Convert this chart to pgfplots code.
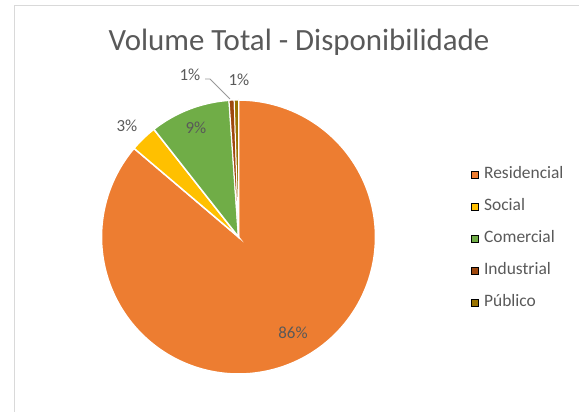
\documentclass[border=0pt]{standalone}
\usepackage{pgfplots}
\pgfplotsset{compat=1.18}
\usepackage{pgfplotstable}
\usepackage{fontspec}
\setmainfont{Carlito}
\definecolor{cRes}{HTML}{ED7D31}
\definecolor{cSoc}{HTML}{FFC000}
\definecolor{cCom}{HTML}{70AD47}
\definecolor{cInd}{HTML}{9E480E}
\definecolor{cPub}{HTML}{997300}
\definecolor{txt}{HTML}{595959}
\definecolor{frame}{HTML}{D9D9D9}
\pgfplotstableread{
name value
Residencial 86.2
Social 3.2
Comercial 9.5
Industrial 0.6
Publico 0.5
}\piedata
\pgfplotstablegetelem{0}{value}\of\piedata \pgfmathsetmacro\vA{\pgfplotsretval}
\pgfplotstablegetelem{1}{value}\of\piedata \pgfmathsetmacro\vB{\pgfplotsretval}
\pgfplotstablegetelem{2}{value}\of\piedata \pgfmathsetmacro\vC{\pgfplotsretval}
\pgfplotstablegetelem{3}{value}\of\piedata \pgfmathsetmacro\vD{\pgfplotsretval}
\pgfplotstablegetelem{4}{value}\of\piedata \pgfmathsetmacro\vE{\pgfplotsretval}
\pgfmathsetmacro\aO{90}
\pgfmathsetmacro\aA{90-3.6*\vA}
\pgfmathsetmacro\aB{\aA-3.6*\vB}
\pgfmathsetmacro\aC{\aB-3.6*\vC}
\pgfmathsetmacro\aD{\aC-3.6*\vD}
\pgfmathsetmacro\aE{\aD-3.6*\vE}
\def\cx{238.5}\def\cy{175}\def\R{137}
\begin{document}%
\begin{tikzpicture}
\path[use as bounding box] (0,0) rectangle (579bp,412bp);
\begin{axis}[at={(0,0)}, anchor=south west, scale only axis,
  width=579bp, height=412bp, xmin=0, xmax=579, ymin=0, ymax=412,
  hide axis, clip=false,
  legend image code/.code={\fill[#1] (0bp,-3.5bp) rectangle (7bp,3.5bp);},
  legend style={at={(axis cs:471,412-164)}, anchor=north west, draw=none, fill=none,
    font=\fontsize{17.5}{20}\selectfont\color{txt}, row sep=10.9bp, inner sep=0pt,
    nodes={text height=12bp, text depth=4bp, inner sep=2.5bp},
    /tikz/every odd column/.append style={column sep=3bp}},
  legend cell align=left]
\addplot[frame, line width=1pt, forget plot] coordinates {(14,0) (14,406) (579,406)};
\addplot[draw=white, line width=1.5bp, fill=cRes, domain=\aA:\aO, samples=150, variable=\t, forget plot]
  ({\cx+\R*cos(\t)}, {\cy+\R*sin(\t)}) -- (axis cs:\cx,\cy) -- cycle;
\addplot[draw=white, line width=1.5bp, fill=cSoc, domain=\aB:\aA, samples=20, variable=\t, forget plot]
  ({\cx+\R*cos(\t)}, {\cy+\R*sin(\t)}) -- (axis cs:\cx,\cy) -- cycle;
\addplot[draw=white, line width=1.5bp, fill=cCom, domain=\aC:\aB, samples=40, variable=\t, forget plot]
  ({\cx+\R*cos(\t)}, {\cy+\R*sin(\t)}) -- (axis cs:\cx,\cy) -- cycle;
\addplot[draw=white, line width=1bp, fill=cInd, domain=\aD:\aC, samples=5, variable=\t, forget plot]
  ({\cx+\R*cos(\t)}, {\cy+\R*sin(\t)}) -- (axis cs:\cx,\cy) -- cycle;
\addplot[draw=white, line width=1bp, fill=cPub, domain=\aE:\aD, samples=5, variable=\t, forget plot]
  ({\cx+\R*cos(\t)}, {\cy+\R*sin(\t)}) -- (axis cs:\cx,\cy) -- cycle;
% leader line
\addplot[color=black!40, line width=0.8pt, forget plot] coordinates {(205,333) (210,333) (230,313)};
% labels
\node[font=\fontsize{17}{20}\selectfont, text=txt] at (axis cs:293,79) {86\%};
\node[font=\fontsize{17}{20}\selectfont, text=txt] at (axis cs:196,284) {9\%};
\node[font=\fontsize{17}{20}\selectfont, text=txt] at (axis cs:127,286) {3\%};
\node[font=\fontsize{17}{20}\selectfont, text=txt] at (axis cs:190,337) {1\%};
\node[font=\fontsize{17}{20}\selectfont, text=txt] at (axis cs:239,332) {1\%};
\node[font=\fontsize{31}{36}\selectfont, text=txt, anchor=base] at (axis cs:299,361) {Volume Total - Disponibilidade};
\addlegendimage{fill=cRes}\addlegendentry{Residencial}
\addlegendimage{fill=cSoc}\addlegendentry{Social}
\addlegendimage{fill=cCom}\addlegendentry{Comercial}
\addlegendimage{fill=cInd}\addlegendentry{Industrial}
\addlegendimage{fill=cPub}\addlegendentry{Público}
\end{axis}
\end{tikzpicture}%
\end{document}
